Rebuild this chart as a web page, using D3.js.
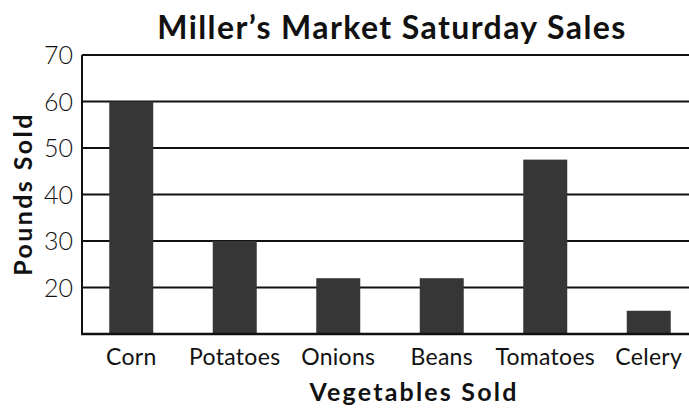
<!DOCTYPE html>
<html>
<head>
<meta charset="utf-8">
<script src="https://cdn.jsdelivr.net/npm/d3@7"></script>
<style>
  body { margin: 0; background: #fff; }
  text { font-family: Lato, "Open Sans", sans-serif; fill: #111; }
</style>
</head>
<body>
<div id="chart"></div>
<script>
// chart data
const vegetables = ["Corn", "Potatoes", "Onions", "Beans", "Tomatoes", "Celery"];
const pounds = [60, 30, 22, 22, 47.5, 15];
const yTicks = [20, 30, 40, 50, 60, 70];

const width = 689;
const height = 408;
const margin = { top: 55, right: 0, bottom: 74, left: 82 };

const svg = d3.select("#chart")
    .append("svg")
    .attr("width", width)
    .attr("height", height);

// y scale: bottom of the plot sits at 10
const y = d3.scaleLinear()
    .domain([10, 70])
    .range([height - margin.bottom, margin.top]);

const x = d3.scaleBand()
    .domain(vegetables)
    .range([79.5, 79.5 + 6 * 103.5])
    .paddingInner(0.575)
    .paddingOuter(0.2875);

// horizontal grid lines
svg.append("g")
    .selectAll("line")
    .data(yTicks)
    .enter().append("line")
    .attr("x1", margin.left)
    .attr("x2", width)
    .attr("y1", d => y(d))
    .attr("y2", d => y(d))
    .attr("stroke", "#111")
    .attr("stroke-width", 2);

// left border
svg.append("line")
    .attr("x1", margin.left).attr("x2", margin.left)
    .attr("y1", y(70)).attr("y2", y(10))
    .attr("stroke", "#111").attr("stroke-width", 2);

// bars
svg.append("g")
    .selectAll("rect")
    .data(vegetables)
    .enter().append("rect")
    .attr("x", d => x(d))
    .attr("width", x.bandwidth())
    .attr("y", (d, i) => y(pounds[i]))
    .attr("height", (d, i) => y(10) - y(pounds[i]))
    .attr("fill", "#363636");

// bottom axis
svg.append("line")
    .attr("x1", margin.left - 1).attr("x2", width)
    .attr("y1", y(10)).attr("y2", y(10))
    .attr("stroke", "#111").attr("stroke-width", 2.5);

// y tick labels
svg.append("g")
    .selectAll("text")
    .data(yTicks)
    .enter().append("text")
    .attr("x", 73)
    .attr("y", d => y(d) + 9)
    .attr("text-anchor", "end")
    .style("font-size", "25px")
    .style("font-weight", 300)
    .text(d => d);

// category labels
svg.append("g")
    .selectAll("text")
    .data(vegetables)
    .enter().append("text")
    .attr("x", d => x(d) + x.bandwidth() / 2)
    .attr("y", 365)
    .attr("text-anchor", "middle")
    .style("font-size", "23px")
    .style("letter-spacing", "0.3px")
    .text(d => d);

// titles
svg.append("text")
    .attr("x", 392)
    .attr("y", 39)
    .attr("text-anchor", "middle")
    .style("font-size", "32px")
    .style("font-weight", "bold")
    .style("letter-spacing", "1.4px")
    .text("Miller\u2019s Market Saturday Sales");

svg.append("text")
    .attr("x", 414)
    .attr("y", 401)
    .attr("text-anchor", "middle")
    .style("font-size", "25px")
    .style("font-weight", "bold")
    .style("letter-spacing", "2.2px")
    .text("Vegetables Sold");

svg.append("text")
    .attr("transform", "translate(32,194) rotate(-90)")
    .attr("text-anchor", "middle")
    .style("font-size", "25px")
    .style("font-weight", "bold")
    .style("letter-spacing", "2.4px")
    .text("Pounds Sold");
</script>
</body>
</html>
